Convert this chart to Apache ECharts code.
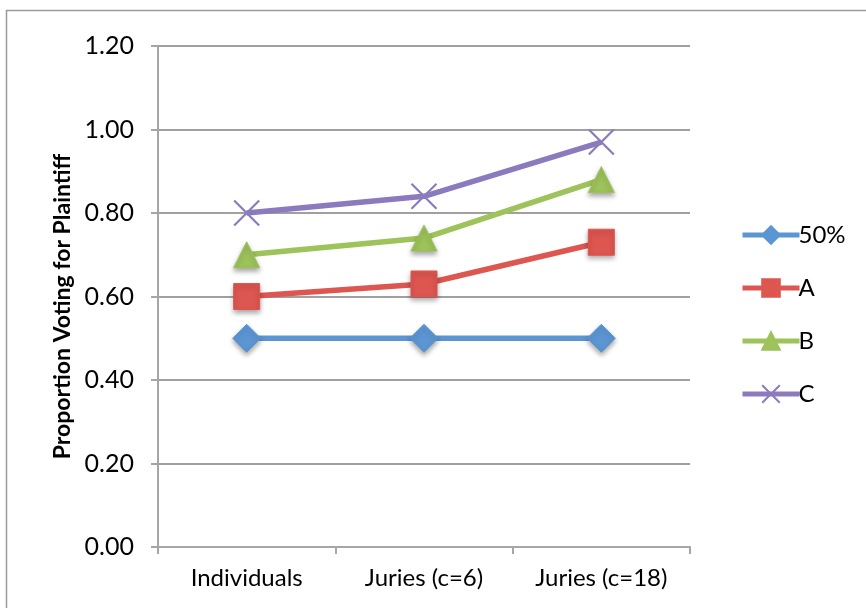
<!DOCTYPE html>
<html><head><meta charset="utf-8">
<script src="https://cdn.jsdelivr.net/npm/echarts@6/dist/echarts.min.js"></script>
<style>html,body{margin:0;padding:0;background:#fff}#c{width:866px;height:608px}</style>
</head><body><div id="c"></div>
<script>
const categories = ['Individuals', 'Juries (c=6)', 'Juries (c=18)'];
const seriesNames = ['50%', 'A', 'B', 'C'];
const s50 = [0.50, 0.50, 0.50];
const sA = [0.60, 0.63, 0.73];
const sB = [0.70, 0.74, 0.88];
const sC = [0.80, 0.84, 0.97];
const yTicks = [0, 0.2, 0.4, 0.6, 0.8, 1.0, 1.2];

const colors = ['#5B96D3', '#DE5650', '#9DC35A', '#8B7BBE'];
const symbols = ['diamond', 'rect', 'triangle', 'path://M0,0L10,10M10,0L0,10'];
const data = [s50, sA, sB, sC];
const font = 'Lato, "Open Sans", sans-serif';

const chart = echarts.init(document.getElementById('c'), null, {renderer: 'canvas'});
chart.setOption({
  animation: false,
  backgroundColor: '#fff',
  graphic: [{
    type: 'rect', shape: {x: 6.5, y: 10.5, width: 900, height: 700},
    style: {fill: 'none', stroke: '#9a9a9a', lineWidth: 1.5}, silent: true, z: -1
  }],
  grid: {left: 158, right: 176, top: 46, bottom: 61, containLabel: false},
  legend: {
    orient: 'vertical', left: 735, top: 218,
    itemWidth: 57, itemHeight: 22, itemGap: 29,
    lineStyle: {width: 5},
    textStyle: {fontFamily: font, fontSize: 24, color: '#000', padding: [0, 0, 0, -6]},
    data: seriesNames
  },
  xAxis: {
    type: 'category', data: categories, boundaryGap: true,
    axisLine: {lineStyle: {color: '#A6A6A6', width: 2}},
    axisTick: {show: true, length: 7, lineStyle: {color: '#A6A6A6', width: 2}},
    axisLabel: {fontFamily: font, fontSize: 24, color: '#000', margin: 19}
  },
  yAxis: {
    type: 'value', min: 0, max: 1.2, interval: 0.2,
    name: 'Proportion Voting for Plaintiff', nameLocation: 'middle', nameGap: 83,
    nameTextStyle: {fontFamily: font, fontSize: 23, fontWeight: 'bold', color: '#000',
      padding: [0, 20, 0, 0]},
    axisLine: {show: true, lineStyle: {color: '#A6A6A6', width: 2}},
    axisTick: {show: true, length: 7, lineStyle: {color: '#A6A6A6', width: 2}},
    splitLine: {lineStyle: {color: '#A0A0A0', width: 2}},
    axisLabel: {fontFamily: font, fontSize: 25, color: '#000', margin: 24,
      formatter: v => v.toFixed(2)}
  },
  series: seriesNames.map((n, i) => ({
    name: n, type: 'line', data: data[i],
    symbol: symbols[i], symbolSize: i === 0 ? 28 : (i === 3 ? 25 : 26),
    lineStyle: {color: colors[i], width: 5.5},
    itemStyle: i === 3
      ? {color: 'transparent', borderColor: colors[i], borderWidth: 2.2}
      : {color: colors[i], borderColor: colors[i], borderWidth: 1,
         shadowBlur: 5, shadowColor: 'rgba(0,0,0,0.35)', shadowOffsetY: 3},
    z: 2 + i
  }))
});
</script></body></html>
